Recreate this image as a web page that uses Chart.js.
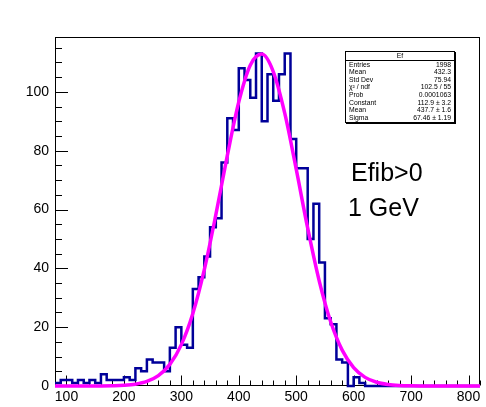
<!DOCTYPE html>
<html><head><meta charset="utf-8">
<script src="https://cdn.jsdelivr.net/npm/chart.js@4.4.1/dist/chart.umd.min.js"></script>
<style>
html,body{margin:0;padding:0;background:#fff;}
#wrap{position:relative;width:486px;height:407px;overflow:hidden;background:#fff;}
canvas{position:absolute;left:0;top:0;}
.stats{position:absolute;left:345px;top:51px;width:108px;border:1px solid #000;background:#fff;font-family:"Liberation Sans",Arial,sans-serif;font-size:6.8px;color:#000;box-shadow:1px 1px 0 #000;}
.stats .title{height:7.5px;line-height:7.5px;text-align:center;border-bottom:1px solid #000;}
.stats .row{display:flex;justify-content:space-between;height:7.63px;line-height:7.63px;padding:0 3px;}
.ann{position:absolute;font-family:"Liberation Sans",Arial,sans-serif;font-size:25px;line-height:25px;color:#000;white-space:nowrap;}
</style></head>
<body>
<div id="wrap">
<canvas id="c" width="486" height="407"></canvas>
<div id="stats" class="stats"></div>
<div id="a1" class="ann" style="left:351px;top:160px;">Efib&gt;0</div>
<div id="a2" class="ann" style="left:348px;top:195px;">1 GeV</div>
</div>
<script>
// ---- data ----
const binLow = [80,90,100,110,120,130,140,150,160,170,180,190,200,210,220,230,240,250,260,270,
  280,290,300,310,320,330,340,350,360,370,380,390,400,410,420,430,440,450,460,470,
  480,490,500,510,520,530,540,550,560,570,580,590,600,610,620,630,640,650,660,670,
  680,690,700,710,720,730,740,750,760,770,780,790,800,810];
const counts = [1,2,2,1,2,1,2,1,4,2,2,2,3,2,6,5,9,8,8,5,
  13,20,14,13,33,37,44,54,57,76,91,87,108,104,98,113,90,106,97,106,
  113,84,74,74,50,62,42,23,21,9,8,0,3,1,0,0,0,0,0,0,
  0,0,0,0,0,0,0,0,0,0,0,0,0,0];
const fitX = [80,100,120,140,160,180,200,220,240,260,280,300,320,340,360,380,400,420,440,460,
  480,500,520,540,560,580,600,620,640,660,680,700,720,740,760,780,800,820];
const fitY = [0,0,0,0.01,0.02,0.08,0.23,0.62,1.54,3.52,7.34,14.07,24.65,39.56,58.17,78.31,96.58,109.08,112.83,106.89,
  92.75,73.71,53.64,35.76,21.83,12.20,6.25,2.93,1.26,0.50,0.18,0.06,0.02,0,0,0,0,0];
const xTickLabels = [100,200,300,400,500,600,700,800];
const yTickLabels = [0,20,40,60,80,100];
const xRange = [80, 820];
const yRange = [0, 118.65];
const statsTitle = "Ef";
const statsLabels = ["Entries","Mean","Std Dev","\u03c7\u00b2 / ndf","Prob","Constant","Mean","Sigma"];
const statsValues = ["1998","432.3","75.94","102.5 / 55","0.0001063","112.9 \u00b1 3.2","437.7 \u00b1 1.6","67.46 \u00b1 1.19"];

// ---- stats box ----
const sb = document.getElementById('stats');
const t = document.createElement('div'); t.className='title'; t.textContent=statsTitle; sb.appendChild(t);
statsLabels.forEach((l,i)=>{
  const r=document.createElement('div'); r.className='row';
  const a=document.createElement('span'); a.textContent=l;
  const b=document.createElement('span'); b.textContent=statsValues[i];
  r.appendChild(a); r.appendChild(b); sb.appendChild(r);
});

// ---- chart ----
const FONT = '"Liberation Sans", Arial, Helvetica, sans-serif';
const histData = binLow.map((x,i)=>({x, y:counts[i]}));
histData.push({x:xRange[1], y:counts[counts.length-1]});
const fitData = fitX.map((x,i)=>({x, y:fitY[i]}));

const frameTicks = {
  id:'frameTicks',
  beforeDatasetsDraw(chart){
    const {ctx, chartArea:a, scales:{x,y}} = chart;
    ctx.save();
    ctx.strokeStyle='#000'; ctx.lineWidth=1;
    const L=Math.round(a.left)+0.5, R=Math.round(a.right)-0.5, T=Math.round(a.top)+0.5, B=Math.round(a.bottom)-0.5;
    ctx.strokeRect(L, T, R-L, B-T);
    ctx.beginPath();
    for(let v=xRange[0]; v<=xRange[1]; v+=20){
      const px=Math.round(x.getPixelForValue(v))+0.5;
      const len = (v%100===0)?10:5;
      ctx.moveTo(px,B); ctx.lineTo(px,B-len);
    }
    for(let v=0; v<=yRange[1]; v+=5){
      const py=Math.round(y.getPixelForValue(v))+0.5;
      const len = (v%20===0)?12.5:6.5;
      ctx.moveTo(L,py); ctx.lineTo(L+len,py);
    }
    ctx.stroke();
    ctx.restore();
  }
};

new Chart(document.getElementById('c'), {
  type:'line',
  data:{datasets:[
    {label:'fit', data:fitData, borderColor:'#ff00ff', borderWidth:3.5, pointRadius:0,
     cubicInterpolationMode:'monotone', fill:false, order:0, clip:false},
    {label:'Ef', data:histData, borderColor:'#000099', borderWidth:2.5, pointRadius:0,
     stepped:true, fill:false, order:1, clip:false}
  ]},
  options:{
    responsive:false, animation:false, devicePixelRatio:1,
    layout:{padding:{top:37,right:6,left:0,bottom:0}},
    plugins:{legend:{display:false}, tooltip:{enabled:false}, title:{display:false}},
    scales:{
      x:{type:'linear', min:xRange[0], max:xRange[1],
         grid:{display:false, drawTicks:false}, border:{display:false},
         ticks:{autoSkip:false, maxRotation:0, color:'#000', padding:3, font:{family:FONT, size:14}},
         afterBuildTicks:s=>{s.ticks = xTickLabels.map(v=>({value:v}));},
         afterFit:s=>{s.height=21;}},
      y:{type:'linear', min:yRange[0], max:yRange[1],
         grid:{display:false, drawTicks:false}, border:{display:false},
         ticks:{autoSkip:false, color:'#000', padding:6, font:{family:FONT, size:14}},
         afterBuildTicks:s=>{s.ticks = yTickLabels.map(v=>({value:v}));},
         afterFit:s=>{s.width=55;}}
    }
  },
  plugins:[frameTicks]
});
</script>
</body></html>
